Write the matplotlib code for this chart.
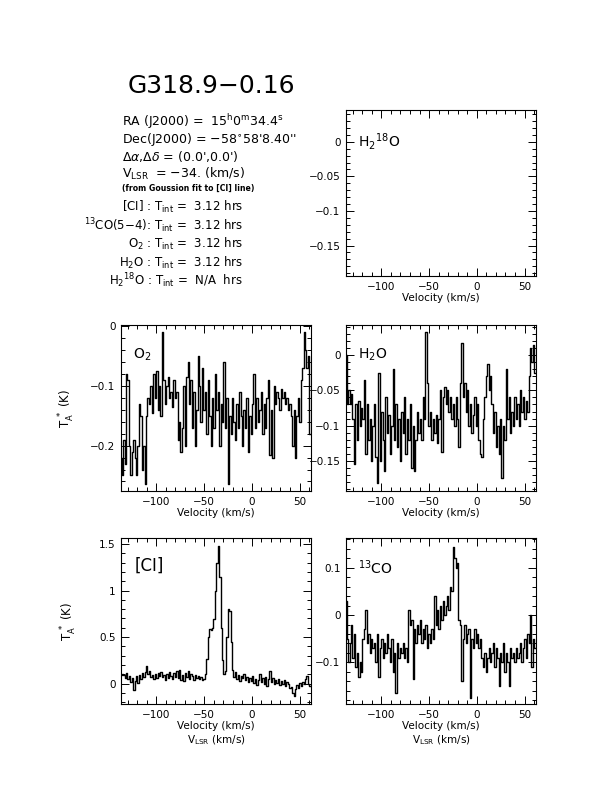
import numpy as np
import matplotlib
matplotlib.use("Agg")
from matplotlib import pyplot as plt
from matplotlib.ticker import MultipleLocator, FuncFormatter

# channel grid (km/s)
v_start = -137.0
v_step = 1.5

# antenna temperatures (K), one value per channel
o2 = [-0.22, -0.25, -0.19, -0.23, -0.08, -0.09, -0.20, -0.25, -0.21, -0.19,
      -0.22, -0.25, -0.20, -0.13, -0.15, -0.24, -0.20, -0.265, -0.15, -0.12,
      -0.13, -0.10, -0.145, -0.08, -0.12, -0.075, -0.14, -0.10, -0.15, -0.01,
      -0.09, -0.13, -0.10, -0.085, -0.12, -0.11, -0.135, -0.09, -0.12, -0.11,
      -0.19, -0.16, -0.21, -0.17, -0.10, -0.20, -0.085, -0.06, -0.13, -0.09,
      -0.17, -0.11, -0.20, -0.14, -0.05, -0.10, -0.16, -0.07, -0.14, -0.11,
      -0.18, -0.09, -0.15, -0.20, -0.12, -0.17, -0.08, -0.14, -0.11, -0.20,
      -0.13, -0.16, -0.06, -0.17, -0.12, -0.265, -0.15, -0.18, -0.12, -0.16,
      -0.19, -0.13, -0.17, -0.11, -0.15, -0.20, -0.14, -0.17, -0.12, -0.21,
      -0.15, -0.18, -0.13, -0.08, -0.17, -0.12, -0.16, -0.14, -0.11, -0.18,
      -0.13, -0.17, -0.12, -0.09, -0.215, -0.14, -0.22, -0.10, -0.13, -0.11,
      -0.12, -0.14, -0.105, -0.12, -0.11, -0.13, -0.12, -0.14, -0.13, -0.15,
      -0.20, -0.14, -0.22, -0.15, -0.12, -0.16, -0.09, -0.07, -0.01, -0.04,
      -0.07, -0.05, -0.18]

h2o = [0.0, -0.07, -0.05, -0.07, -0.055, -0.09, -0.155, -0.07, -0.12, -0.065,
       -0.10, -0.075, -0.09, -0.035, -0.14, -0.07, -0.12, -0.09, -0.15, -0.10,
       -0.07, -0.145, -0.181, -0.025, -0.15, -0.08, -0.12, -0.165, -0.06, -0.11,
       -0.085, -0.14, -0.10, -0.02, -0.12, -0.07, -0.13, -0.09, -0.15, -0.08,
       -0.11, -0.06, -0.14, -0.09, -0.12, -0.07, -0.16, -0.10, -0.165, -0.12,
       -0.08, -0.11, -0.09, -0.12, -0.06, -0.09, 0.033, -0.04, -0.10, -0.08,
       -0.12, -0.09, -0.11, -0.085, -0.125, -0.09, -0.05, -0.138, -0.06, -0.045,
       -0.07, -0.05, -0.08, -0.06, -0.09, -0.07, -0.10, -0.06, -0.09, -0.13,
       -0.04, 0.017, -0.06, -0.04, -0.08, -0.05, -0.10, -0.07, -0.11, -0.085,
       -0.06, -0.10, -0.07, -0.12, -0.14, -0.145, -0.09, -0.06, -0.03, -0.012,
       -0.05, -0.03, -0.07, -0.11, -0.08, -0.13, -0.10, -0.14, -0.09, -0.174,
       -0.10, -0.12, -0.02, -0.09, -0.06, -0.11, -0.08, -0.10, -0.06, -0.09,
       -0.07, -0.10, -0.05, -0.08, -0.06, -0.09, -0.065, -0.08, -0.03, 0.01,
       -0.01, 0.015, -0.025]

ci = [0.09, 0.10, 0.09, 0.06, 0.11, 0.05, 0.08, 0.02, 0.06, -0.07,
      0.03, 0.08, 0.01, 0.09, 0.05, 0.11, 0.07, 0.12, 0.19, 0.10,
      0.13, 0.07, 0.09, 0.05, 0.10, 0.06, 0.11, 0.08, 0.12, 0.07,
      0.09, 0.04, 0.10, 0.06, 0.12, 0.08, 0.05, 0.11, 0.07, 0.13,
      0.06, 0.15, 0.04, 0.09, 0.03, 0.11, 0.07, 0.13, 0.05, 0.10,
      0.08, 0.04, 0.09, 0.06, 0.08, 0.05, 0.07, 0.04, 0.05, 0.10,
      0.26, 0.50, 0.59, 0.58, 0.60, 0.69, 1.00, 1.30, 1.48, 1.15,
      0.60, 0.25, 0.10, 0.13, 0.50, 0.80, 0.78, 0.45, 0.15, 0.07,
      0.12, 0.05, 0.09, 0.03, 0.08, 0.06, 0.10, 0.04, 0.07, 0.02,
      0.06, 0.03, 0.08, 0.01, 0.05, -0.02, 0.04, 0.10, 0.02, 0.06,
      0.00, 0.07, -0.03, 0.05, 0.13, 0.02, 0.06, -0.01, 0.04, 0.01,
      0.05, -0.02, 0.03, 0.00, 0.04, -0.03, 0.02, -0.01, -0.05, -0.04,
      -0.10, -0.13, -0.06, -0.02, -0.05, 0.01, -0.03, 0.02, 0.00, 0.05,
      0.08, 0.00, -0.03]

co13 = [0.03, -0.05, -0.10, -0.06, -0.02, -0.09, -0.04, -0.11, -0.08, -0.13,
        -0.10, -0.12, -0.05, -0.03, 0.01, -0.06, -0.04, -0.08, -0.05, -0.07,
        -0.06, -0.10, -0.04, -0.13, -0.07, -0.05, -0.09, -0.06, -0.08, -0.04,
        -0.07, -0.10, -0.05, -0.12, -0.08, -0.165, -0.06, -0.09, -0.07, -0.08,
        -0.06, -0.09, -0.07, -0.10, 0.01, -0.02, -0.01, -0.135, -0.03, -0.06,
        -0.02, -0.04, -0.01, -0.06, -0.03, -0.05, -0.02, -0.07, -0.04, -0.06,
        -0.03, -0.05, 0.04, -0.02, 0.01, -0.03, 0.02, -0.01, 0.03, 0.00,
        0.02, 0.04, 0.01, 0.06, 0.05, 0.145, 0.12, 0.10, 0.11, -0.01,
        -0.02, -0.14, -0.05, -0.02, -0.06, -0.04, -0.03, -0.175, -0.05, -0.07,
        -0.03, -0.06, -0.04, -0.07, -0.05, -0.09, -0.11, -0.08, -0.12, -0.09,
        -0.07, -0.10, -0.08, -0.06, -0.11, -0.07, -0.09, -0.15, -0.08, -0.10,
        -0.06, -0.12, -0.08, -0.10, -0.15, -0.07, -0.09, -0.08, -0.10, -0.07,
        -0.09, -0.08, -0.06, -0.10, -0.07, -0.05, -0.09, -0.04, -0.06, 0.00,
        -0.11, -0.05, -0.07]

W, H = 612, 792
fig = plt.figure(figsize=(W / 100, H / 100), dpi=100)


def fx(px):
    return px / W


def fy(py):
    return 1 - py / H


def fmt(x, pos):
    if abs(x) < 1e-9:
        return "0"
    return ("%g" % x).replace("-", "\u2212")


def make_ax(left, top, ylim, ymaj, ymin):
    ax = fig.add_axes([fx(left), fy(top + 166), 190 / W, 166 / H])
    ax.set_xlim(-137, 62)
    ax.set_ylim(*ylim)
    ax.xaxis.set_major_locator(MultipleLocator(50))
    ax.xaxis.set_minor_locator(MultipleLocator(10))
    ax.yaxis.set_major_locator(MultipleLocator(ymaj))
    ax.yaxis.set_minor_locator(MultipleLocator(ymin))
    ax.xaxis.set_major_formatter(FuncFormatter(fmt))
    ax.yaxis.set_major_formatter(FuncFormatter(fmt))
    ax.tick_params(which="both", direction="in", top=True, right=True,
                   labelsize=7.5, width=0.7, pad=4)
    ax.tick_params(which="major", length=6)
    ax.tick_params(which="minor", length=3)
    for s in ax.spines.values():
        s.set_linewidth(0.8)
    ax.set_xlabel("Velocity (km/s)", fontsize=7.5, labelpad=1)
    return ax


def spec(ax, vals):
    v = v_start + v_step * np.arange(len(vals))
    ax.plot(v, vals, drawstyle="steps-mid", color="black", lw=1.0)


# H2 18O (no data)
ax1 = make_ax(346, 110, (-0.194, 0.046), 0.05, 0.01)
ax1.text(0.063, 0.81, r"H$_2$$^{18}$O", transform=ax1.transAxes,
         fontsize=10, va="center")

# O2
ax2 = make_ax(121, 325, (-0.276, 0.002), 0.1, 0.02)
spec(ax2, o2)
ax2.text(0.063, 0.82, r"O$_2$", transform=ax2.transAxes, fontsize=10, va="center")
ax2.set_ylabel(r"T$_{\rm A}^{\ *}$ (K)", fontsize=8.5)
ax2.yaxis.set_label_coords(-0.23, 0.5)

# H2O
ax3 = make_ax(346, 325, (-0.193, 0.043), 0.05, 0.01)
spec(ax3, h2o)
ax3.text(0.063, 0.82, r"H$_2$O", transform=ax3.transAxes, fontsize=10, va="center")

# [CI]
ax4 = make_ax(121, 538, (-0.22, 1.565), 0.5, 0.1)
spec(ax4, ci)
ax4.text(0.07, 0.83, "[CI]", transform=ax4.transAxes, fontsize=12, va="center")
ax4.set_ylabel(r"T$_{\rm A}^{\ *}$ (K)", fontsize=8.5)
ax4.yaxis.set_label_coords(-0.22, 0.5)
ax4.set_xlabel("Velocity (km/s)\n" + r"V$_{\rm LSR}$ (km/s)", fontsize=7.5,
               labelpad=1, linespacing=1.2)

# 13CO
ax5 = make_ax(346, 538, (-0.188, 0.163), 0.1, 0.02)
spec(ax5, co13)
ax5.text(0.063, 0.82, r"$^{13}$CO", transform=ax5.transAxes, fontsize=10, va="center")
ax5.set_xlabel("Velocity (km/s)\n" + r"V$_{\rm LSR}$ (km/s)", fontsize=7.5,
               labelpad=1, linespacing=1.2)

# header text
fig.text(fx(211), fy(86), "G318.9\u22120.16", fontsize=18, ha="center", va="center")
fig.text(fx(122), fy(122), r"RA (J2000) =  15$^{\rm h}$0$^{\rm m}$34.4$^{\rm s}$",
         fontsize=9, va="center")
fig.text(fx(122), fy(139), "Dec(J2000) = \u221258$^{\\circ}$58'8.40''",
         fontsize=9, va="center")
fig.text(fx(122), fy(156), r"$\Delta\alpha$,$\Delta\delta$ = (0.0',0.0')",
         fontsize=9, va="center")
fig.text(fx(122), fy(174), "V$_{\\rm LSR}$  = \u221234. (km/s)", fontsize=9, va="center")
fig.text(fx(122), fy(188), "(from Goussion fit to [CI] line)", fontsize=5.6,
         fontweight="bold", va="center")

rows = ["[CI] : T$_{\\rm int}$ =  3.12 hrs",
        "$^{13}$CO(5\u22124): T$_{\\rm int}$ =  3.12 hrs",
        "O$_2$ : T$_{\\rm int}$ =  3.12 hrs",
        "H$_2$O : T$_{\\rm int}$ =  3.12 hrs",
        "H$_2$$^{18}$O : T$_{\\rm int}$ =  N/A  hrs"]
rows_y = [207, 226, 244, 263, 281]
for t, yy in zip(rows, rows_y):
    fig.text(fx(243), fy(yy), t, fontsize=8.5, ha="right", va="center")

plt.savefig("out.png", dpi=100)
